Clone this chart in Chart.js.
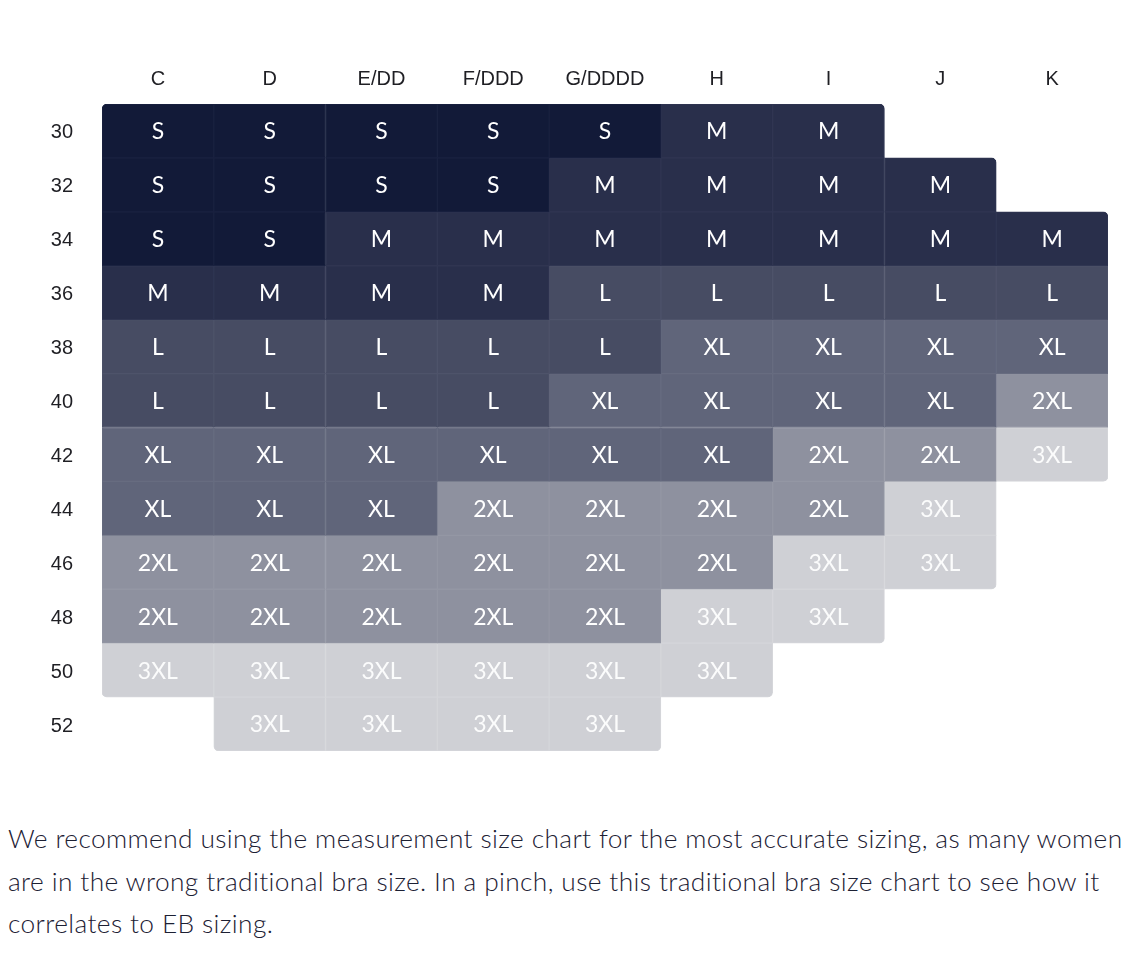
<!DOCTYPE html>
<html>
<head>
<meta charset="utf-8">
<script src="https://cdn.jsdelivr.net/npm/chart.js@4"></script>
<style>
  body { margin: 0; background: #fff; }
  #wrap { position: relative; width: 1134px; height: 792px; }
  p.note {
    margin: 0; padding: 25px 8px 0 8px;
    font-family: Lato, "Noto Sans", sans-serif; font-size: 26.3px; font-weight: 300;
    letter-spacing: 0.38px; line-height: 42.5px;
    color: #1c2033;
  }
</style>
</head>
<body>
<div id="wrap"><canvas id="sizes"></canvas></div>
<p class="note">We recommend using the measurement size chart for the most accurate sizing, as many women are in the wrong traditional bra size. In a pinch, use this traditional bra size chart to see how it correlates to EB sizing.</p>
<script>
// Cup sizes (columns) and band sizes (rows)
const CUPS = ['C', 'D', 'E/DD', 'F/DDD', 'G/DDDD', 'H', 'I', 'J', 'K'];
const BANDS = [30, 32, 34, 36, 38, 40, 42, 44, 46, 48, 50, 52];
const SIZES = ['S', 'M', 'L', 'XL', '2XL', '3XL'];
const SIZE_COLORS = ['#121a38', '#292f4b', '#474c63', '#60657a', '#8e919f', '#cfd0d5'];
const SIZE_EDGES = ['#1a2240', '#303652', '#4e536a', '#676c80', '#9497a4', '#d5d6da'];

// one row per band, one entry per cup (null = no size)
const ROW_30 = ['S', 'S', 'S', 'S', 'S', 'M', 'M', null, null];
const ROW_32 = ['S', 'S', 'S', 'S', 'M', 'M', 'M', 'M', null];
const ROW_34 = ['S', 'S', 'M', 'M', 'M', 'M', 'M', 'M', 'M'];
const ROW_36 = ['M', 'M', 'M', 'M', 'L', 'L', 'L', 'L', 'L'];
const ROW_38 = ['L', 'L', 'L', 'L', 'L', 'XL', 'XL', 'XL', 'XL'];
const ROW_40 = ['L', 'L', 'L', 'L', 'XL', 'XL', 'XL', 'XL', '2XL'];
const ROW_42 = ['XL', 'XL', 'XL', 'XL', 'XL', 'XL', '2XL', '2XL', '3XL'];
const ROW_44 = ['XL', 'XL', 'XL', '2XL', '2XL', '2XL', '2XL', '3XL', null];
const ROW_46 = ['2XL', '2XL', '2XL', '2XL', '2XL', '2XL', '3XL', '3XL', null];
const ROW_48 = ['2XL', '2XL', '2XL', '2XL', '2XL', '3XL', '3XL', null, null];
const ROW_50 = ['3XL', '3XL', '3XL', '3XL', '3XL', '3XL', null, null, null];
const ROW_52 = [null, '3XL', '3XL', '3XL', '3XL', null, null, null, null];

const ROWS = [ROW_30, ROW_32, ROW_34, ROW_36, ROW_38, ROW_40, ROW_42, ROW_44, ROW_46, ROW_48, ROW_50, ROW_52];

function hasCell(r, c) {
    return r >= 0 && r < ROWS.length && c >= 0 && c < CUPS.length && ROWS[r][c] !== null;
}

// round only the outer corners of the whole shape
function cornerRadius(ctx) {
    const raw = ctx.raw;
    if (!raw) return 0;
    const r = raw.row, c = raw.col, R = 5;
    const up = hasCell(r - 1, c), down = hasCell(r + 1, c);
    const left = hasCell(r, c - 1), right = hasCell(r, c + 1);
    return {
        topLeft: !up && !left ? R : 0,
        topRight: !up && !right ? R : 0,
        bottomLeft: !down && !left ? R : 0,
        bottomRight: !down && !right ? R : 0
    };
}

const datasets = SIZES.map((size, i) => {
    const data = [];
    ROWS.forEach((row, r) => {
        row.forEach((s, c) => {
            if (s === size) {
                data.push({ x: CUPS[c], y: [BANDS[r] - 1, BANDS[r] + 1], row: r, col: c });
            }
        });
    });
    return {
        label: size,
        data: data,
        backgroundColor: SIZE_COLORS[i],
        borderColor: SIZE_EDGES[i],
        borderWidth: 1,
        borderSkipped: false,
        borderRadius: cornerRadius,
        grouped: false,
        categoryPercentage: 1,
        barPercentage: 1
    };
});

// writes the size name in the middle of each cell
const cellLabels = {
    id: 'cellLabels',
    afterDatasetsDraw(chart) {
        const ctx = chart.ctx;
        ctx.save();
        ctx.font = '23px Lato, "Noto Sans", sans-serif';
        ctx.textAlign = 'center';
        ctx.textBaseline = 'middle';
        chart.data.datasets.forEach((ds, i) => {
            const meta = chart.getDatasetMeta(i);
            ctx.fillStyle = ds.label === '3XL' ? 'rgba(255, 255, 255, 0.92)' : '#ffffff';
            meta.data.forEach(bar => {
                const p = bar.getProps(['x', 'y', 'base'], true);
                ctx.fillText(ds.label, p.x, (p.y + p.base) / 2 + 1);
            });
        });
        ctx.restore();
    }
};

new Chart(document.getElementById('sizes'), {
    type: 'bar',
    data: { labels: CUPS, datasets: datasets },
    plugins: [cellLabels],
    options: {
        responsive: true,
        maintainAspectRatio: false,
        animation: false,
        layout: { padding: { left: 0, right: 26, top: 0, bottom: 20 } },
        plugins: {
            legend: { display: false },
            tooltip: { enabled: false }
        },
        scales: {
            x: {
                type: 'category',
                position: 'top',
                grid: { display: false, drawTicks: false },
                border: { display: false },
                ticks: {
                    color: '#1f1f24',
                    font: { family: '"Liberation Sans", Arial, sans-serif', size: 20 },
                    padding: 13
                },
                afterFit(scale) { scale.height = 104; }
            },
            y: {
                type: 'linear',
                reverse: true,
                min: 29,
                max: 53,
                grid: { display: false, drawTicks: false },
                border: { display: false },
                afterBuildTicks(scale) { scale.ticks = BANDS.map(v => ({ value: v })); },
                ticks: {
                    color: '#1f1f24',
                    font: { family: '"Liberation Sans", Arial, sans-serif', size: 20 },
                    padding: 29,
                    labelOffset: 2
                },
                afterFit(scale) { scale.width = 102; }
            }
        }
    }
});
</script>
</body>
</html>
